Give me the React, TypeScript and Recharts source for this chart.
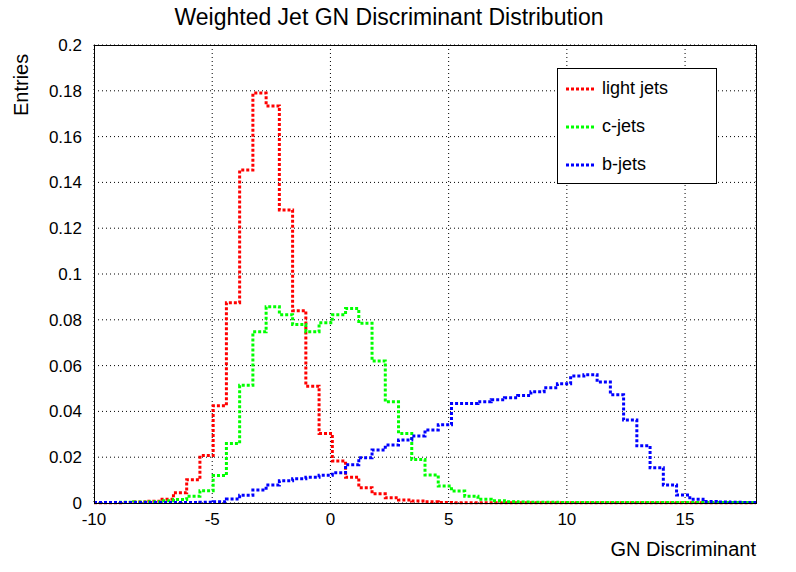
import React from "react";
import { LineChart, Line, XAxis, YAxis, CartesianGrid } from "recharts";

// 50 bins from -10 to 18 (width 0.56)
const lightJets = [
  0.0001, 0.0001, 0.0002, 0.0004, 0.0008, 0.0016, 0.0045, 0.0102, 0.0207, 0.0425,
  0.0875, 0.1454, 0.179, 0.1734, 0.128, 0.084, 0.051, 0.0304, 0.0183, 0.0112,
  0.0067, 0.004, 0.0023, 0.0013, 0.0009, 0.0005, 0.0002, 0.0001, 0.0001, 0.0001,
  0.0001, 0.0001, 0.0001, 0.0001, 0.0001, 0.0001, 0.0001, 0.0001, 0.0001, 0.0001,
  0.0001, 0.0001, 0.0001, 0.0001, 0.0001, 0.0001, 0.0001, 0.0001, 0.0001, 0.0001,
];
const cJets = [
  0.0002, 0.0002, 0.0003, 0.0004, 0.0006, 0.001, 0.0015, 0.003, 0.0054, 0.012,
  0.026, 0.0514, 0.0748, 0.0857, 0.0822, 0.0779, 0.0748, 0.0787, 0.0822, 0.0849,
  0.0785, 0.062, 0.0442, 0.0304, 0.019, 0.0122, 0.0074, 0.0052, 0.003, 0.0016,
  0.001, 0.0006, 0.0004, 0.0003, 0.0003, 0.0002, 0.0002, 0.0002, 0.0002, 0.0002,
  0.0002, 0.0002, 0.0002, 0.0002, 0.0002, 0.0002, 0.0002, 0.0002, 0.0002, 0.0002,
];
const bJets = [
  0.0002, 0.0002, 0.0002, 0.0002, 0.0002, 0.0002, 0.0002, 0.0002, 0.0003, 0.0006,
  0.0017, 0.0034, 0.0057, 0.0079, 0.0097, 0.0106, 0.0112, 0.0121, 0.0132, 0.0167,
  0.0198, 0.0231, 0.0253, 0.0275, 0.0293, 0.0319, 0.0342, 0.0434, 0.0434, 0.0442,
  0.0451, 0.046, 0.0469, 0.0486, 0.0503, 0.0521, 0.0555, 0.056, 0.0528, 0.0473,
  0.0362, 0.025, 0.0154, 0.0079, 0.0035, 0.0016, 0.0007, 0.0004, 0.0003, 0.0002,
];
const xTicks = [-10, -5, 0, 5, 10, 15];
const yTicks = [0, 0.02, 0.04, 0.06, 0.08, 0.1, 0.12, 0.14, 0.16, 0.18, 0.2];

const xMin = -10;
const binWidth = 0.56;
const data = [...lightJets, lightJets[lightJets.length - 1]].map((_, i) => {
  const j = Math.min(i, lightJets.length - 1);
  return {
    x: +(xMin + i * binWidth).toFixed(2),
    light: lightJets[j],
    c: cJets[j],
    b: bJets[j],
  };
});

const font = "'Liberation Sans', Arial, sans-serif";
const dash = "3 2";

const legendItems = [
  { label: "light jets", color: "#ff0000" },
  { label: "c-jets", color: "#00ff00" },
  { label: "b-jets", color: "#0000ff" },
];

export default function App() {
  return (
    <div style={{ position: "absolute", left: 0, top: 0, width: 796, height: 572, background: "#fff", fontFamily: font }}>
      <LineChart width={796} height={572} data={data} margin={{ top: 45, right: 40, bottom: 39, left: 14 }}>
        <CartesianGrid stroke="#000" strokeDasharray="1 3" verticalPoints={undefined} />
        <XAxis
          dataKey="x"
          type="number"
          domain={[-10, 18]}
          ticks={xTicks}
          height={30}
          axisLine={false}
          tickLine={false}
          tick={{ fill: "#000", fontSize: 17, fontFamily: font }}
          tickMargin={4}
        />
        <YAxis
          type="number"
          domain={[0, 0.2]}
          ticks={yTicks}
          width={80}
          axisLine={false}
          tickLine={false}
          tick={{ fill: "#000", fontSize: 17, fontFamily: font }}
          tickMargin={6}
        />
        <Line type="stepAfter" dataKey="light" stroke="#ff0000" strokeWidth={3} strokeDasharray={dash} dot={false} isAnimationActive={false} />
        <Line type="stepAfter" dataKey="c" stroke="#00ff00" strokeWidth={3} strokeDasharray={dash} dot={false} isAnimationActive={false} />
        <Line type="stepAfter" dataKey="b" stroke="#0000ff" strokeWidth={3} strokeDasharray={dash} dot={false} isAnimationActive={false} />
      </LineChart>
      <div style={{ position: "absolute", left: 94, top: 45, width: 661, height: 457, border: "1px solid #000", pointerEvents: "none" }} />
      <div style={{ position: "absolute", left: 0, top: 4, width: 778, textAlign: "center", fontSize: 23 }}>
        Weighted Jet GN Discriminant Distribution
      </div>
      <div style={{ position: "absolute", left: 10, top: 116, fontSize: 20, transform: "rotate(-90deg)", transformOrigin: "0 0" }}>
        Entries
      </div>
      <div style={{ position: "absolute", right: 40, top: 538, fontSize: 20 }}>GN Discriminant</div>
      <div style={{ position: "absolute", left: 557, top: 68, width: 158, height: 114, border: "1px solid #000", background: "#fff" }}>
        {legendItems.map((it, i) => (
          <div key={it.label} style={{ position: "absolute", left: 8, top: 9 + i * 38, display: "flex", alignItems: "center", fontSize: 18 }}>
            <svg width={30} height={6} style={{ marginRight: 6 }}>
              <line x1={0} y1={3} x2={30} y2={3} stroke={it.color} strokeWidth={3} strokeDasharray={dash} />
            </svg>
            {it.label}
          </div>
        ))}
      </div>
    </div>
  );
}
